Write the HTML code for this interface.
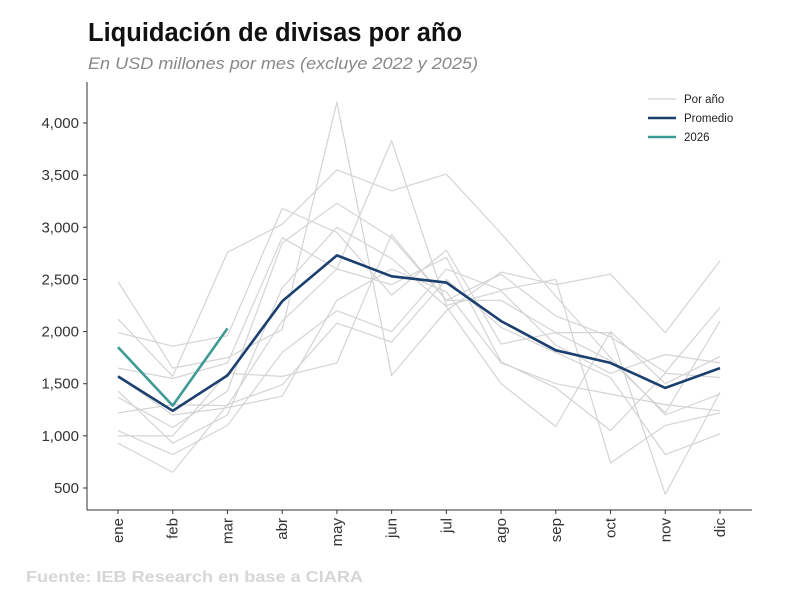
<!DOCTYPE html>
<html><head><meta charset="utf-8">
<style>
body{margin:0;background:#fff;width:800px;height:600px;overflow:hidden;font-family:"Liberation Sans",sans-serif;}
</style></head>
<body>
<svg id="chart" width="800" height="600" xmlns="http://www.w3.org/2000/svg">
<text x="88" y="41" font-family="Liberation Sans, sans-serif" font-weight="bold" font-size="25.5" fill="#111">Liquidación de divisas por año</text>
<text x="88" y="69" font-family="Liberation Sans, sans-serif" font-style="italic" font-size="16.5" fill="#888" textLength="390" lengthAdjust="spacingAndGlyphs">En USD millones por mes (excluye 2022 y 2025)</text>
<text x="26" y="582" font-family="Liberation Sans, sans-serif" font-weight="bold" font-size="16" fill="#d6d6d6" textLength="337" lengthAdjust="spacingAndGlyphs">Fuente: IEB Research en base a CIARA</text>
<g id="plot"></g>
</svg>
<script>
const months = ["ene","feb","mar","abr","may","jun","jul","ago","sep","oct","nov","dic"];
const yTicks = [500,1000,1500,2000,2500,3000,3500,4000];
const promedio = [1570,1240,1580,2290,2730,2530,2470,2100,1820,1700,1460,1650];
const y2026 = [1850,1290,2030];
const y01 = [2480,1650,1750,2020,4200,1580,2200,2570,2450,2550,1990,2680];
const y02 = [2120,1570,2760,3030,3550,3350,3510,2940,2340,1750,1200,1400];
const y03 = [1990,1860,1960,3180,2950,2350,2780,1880,1990,1990,440,1420];
const y04 = [1650,1550,1700,2900,2600,3830,2250,2390,1870,1600,1780,1700];
const y05 = [1430,930,1200,2420,3000,2700,2240,1500,1090,2000,1500,1760];
const y06 = [1220,1300,1290,2100,2600,2450,2710,1710,1460,1050,1600,1560];
const y07 = [1050,820,1100,1800,2200,2000,2600,2400,2500,740,1100,1220];
const y08 = [930,650,1300,1490,2080,1900,2500,2040,1800,1560,820,1020];
const y09 = [1000,1000,1600,1570,1700,2930,2300,2300,1990,1720,1220,2100];
const y10 = [1370,1080,1430,2850,3230,2900,2300,2550,2150,1950,1610,2230];
const y11 = [1570,1200,1270,1380,2300,2600,2380,1700,1500,1400,1300,1240];
const years = [y01,y02,y03,y04,y05,y06,y07,y08,y09,y10,y11];

const NS="http://www.w3.org/2000/svg";
const g=document.getElementById('plot');
const X0=118, DX=(720-118)/11;
const xs=i=>X0+i*DX;
const ys=v=>488-(v-500)*(365/3500);
function mk(t,a){const e=document.createElementNS(NS,t);for(const k in a)e.setAttribute(k,a[k]);g.appendChild(e);return e;}

let e=mk('line',{x1:87,y1:82,x2:87,y2:510,stroke:'#333','stroke-width':1});


e=mk('line',{x1:87,y1:510,x2:752,y2:510,stroke:'#333','stroke-width':1});



yTicks.forEach(v=>{
  const y=ys(v);
  let t=mk('line',{x1:83,y1:y,x2:87,y2:y,stroke:'#333'});
  
  
  let l=mk('text',{x:79,y:y+5,'text-anchor':'end','font-size':15,fill:'#333','font-family':'Liberation Sans, sans-serif'});
  l.textContent=v.toLocaleString('en-US');
  
  
});
months.forEach((m,i)=>{
  const x=xs(i);
  let t=mk('line',{x1:x,y1:510,x2:x,y2:514,stroke:'#333'});
  
  
  let l=mk('text',{x:0,y:0,'text-anchor':'end','font-size':15,fill:'#333','font-family':'Liberation Sans, sans-serif',transform:`translate(${x+5},518) rotate(-90)`});
  l.textContent=m;
  
  
});
function line(arr,color,w){
  const pts=arr.map((v,i)=>xs(i).toFixed(1)+','+ys(v).toFixed(1)).join(' ');
  return mk('polyline',{points:pts,fill:'none',stroke:color,'stroke-width':w,'stroke-linejoin':'round'});
}
years.forEach(a=>{
  const p=line(a,'#d4d4d4',1.2);
  
  
});
let p=line(promedio,'#1b3f6e',2.6);


p=line(y2026,'#3f9a96',2.6);



const leg=[["Por año","#d4d4d4",1.2],["Promedio","#1b3f6e",2.6],["2026","#3f9a96",2.6]];
leg.forEach((d,i)=>{
  const y=99+i*19;
  let l=mk('line',{x1:648,y1:y,x2:676,y2:y,stroke:d[1],'stroke-width':d[2]});
  
  
  let t=mk('text',{x:684,y:y+4,'font-size':11.5,fill:'#222','font-family':'Liberation Sans, sans-serif'});
  t.textContent=d[0];
  
  
});
</script>
</body></html>
